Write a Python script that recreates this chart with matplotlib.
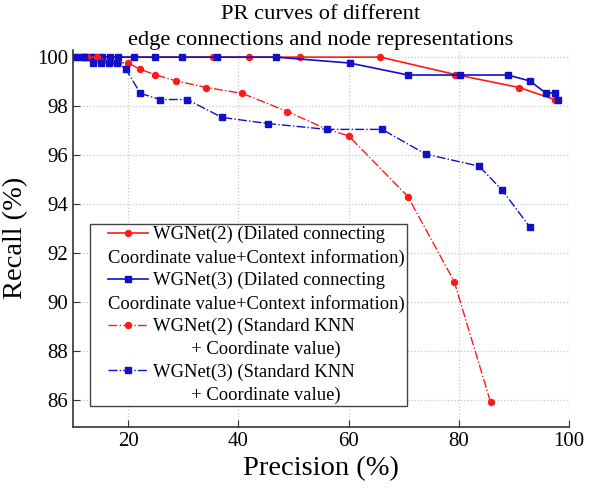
import matplotlib
matplotlib.use("Agg")
import matplotlib.pyplot as plt
from matplotlib.lines import Line2D
from matplotlib.offsetbox import DrawingArea

plt.rcParams["font.family"] = ["Liberation Serif", "DejaVu Serif"]

# WGNet(2), dilated connecting + coordinate value + context information
p_dil2 = [10.5, 12.0, 13.5, 14.5, 35.3, 41.9, 51.2, 65.8, 79.4, 91.0, 97.4]
r_dil2 = [100, 100, 100, 100, 100, 100, 100, 100, 99.29, 98.76, 98.27]

# WGNet(3), dilated connecting + coordinate value + context information
p_dil3 = [10.4, 11.3, 12.2, 13.1, 14.0, 15.2, 16.6, 18.2, 21.0, 24.8, 29.8,
          36.1, 46.8, 60.2, 70.8, 80.2, 88.9, 92.9, 95.8, 97.5, 98.1]
r_dil3 = [100, 100, 100, 100, 100, 100, 100, 100, 100, 100, 100,
          100, 100, 99.76, 99.27, 99.27, 99.27, 99.03, 98.54, 98.54, 98.27]

# WGNet(2), standard KNN + coordinate value
p_knn2 = [12.5, 14.4, 16.6, 18.2, 19.9, 22.1, 24.9, 28.7, 34.2, 40.7,
          48.9, 56.1, 60.0, 70.8, 79.2, 85.8]
r_knn2 = [100, 100, 99.77, 99.77, 99.77, 99.51, 99.28, 99.03, 98.76, 98.52,
          97.78, 97.05, 96.79, 94.30, 90.83, 85.90]

# WGNet(3), standard KNN + coordinate value
p_knn3 = [12.0, 13.6, 15.0, 16.5, 18.0, 19.6, 22.2, 25.8, 30.7, 37.0,
          45.3, 56.1, 66.1, 74.0, 83.7, 87.9, 92.9]
r_knn3 = [100, 99.77, 99.77, 99.77, 99.77, 99.50, 98.52, 98.27, 98.27, 97.54,
          97.29, 97.05, 97.05, 96.04, 95.55, 94.57, 93.07]

labels = [
    ("WGNet(2) (Dilated connecting", "Coordinate value+Context information)"),
    ("WGNet(3) (Dilated connecting", "Coordinate value+Context information)"),
    ("WGNet(2) (Standard KNN", " " * 18 + "+ Coordinate value)"),
    ("WGNet(3) (Standard KNN", " " * 18 + "+ Coordinate value)"),
]
xticks = [20, 40, 60, 80, 100]
yticks = [86, 88, 90, 92, 94, 96, 98, 100]

red = "#ff1a1a"
blue = "#1010c8"

fig = plt.figure(figsize=(5.95, 4.93), dpi=100)
ax = fig.add_axes([0.123, 0.134, 0.833, 0.765])

l1, = ax.plot(p_dil2, r_dil2, "-", color=red, lw=1.2, marker="o", ms=4.3)
l2, = ax.plot(p_dil3, r_dil3, "-", color=blue, lw=1.2, marker="s", ms=4.3)
l3, = ax.plot(p_knn2, r_knn2, "-.", color=red, lw=1.0, marker="o", ms=4.3)
l4, = ax.plot(p_knn3, r_knn3, "-.", color=blue, lw=1.0, marker="s", ms=4.3)

ax.set_xlim(10, 100)
ax.set_ylim(84.9, 100.3)
ax.set_xticks(xticks)
ax.set_yticks(yticks)
ax.grid(True, ls=":", color="#c8c8c8", lw=0.9)
ax.tick_params(direction="in", labelsize=15, length=5, color="#333333")
for s in ["top", "right"]:
    ax.spines[s].set_visible(False)
for s in ["left", "bottom"]:
    ax.spines[s].set_color("#333333")
    ax.spines[s].set_linewidth(1.2)

ax.set_xlabel("Precision (%)", fontsize=20.5)
ax.set_ylabel("Recall (%)", fontsize=20.5)
ax.yaxis.set_label_coords(-0.091, 0.5)
ax.set_title("PR curves of different\nedge connections and node representations",
             fontsize=16.2, linespacing=1.5, pad=-5)

# legend rows: each entry plus an unmarked continuation line
blank = Line2D([], [], color="none")
handles, texts = [], []
for h, (a, b) in zip([l1, l2, l3, l4], labels):
    handles += [h, blank]
    texts += [a, b]
fs = 13.4
leg = ax.legend(handles, texts, loc="lower left", bbox_to_anchor=(0.034, 0.056),
                borderaxespad=0, fontsize=fs, numpoints=1, handlelength=2.2,
                handletextpad=0.25, labelspacing=0.29, borderpad=0.12,
                fancybox=False, edgecolor="#444444", framealpha=1)
leg.get_frame().set_linewidth(1.0)

# continuation lines start under the handles; extra left margin in the box
lead = 11
rows = leg._legend_handle_box.get_children()[0].get_children()
for i, row in enumerate(rows):
    if i % 2 == 1:
        row.sep = 0
        row.get_children()[0].width = 0
        row._children.insert(0, DrawingArea(lead, 1))
    else:
        row._children.insert(0, DrawingArea(lead - row.sep, 1))

fig.savefig("out.png", dpi=100)
